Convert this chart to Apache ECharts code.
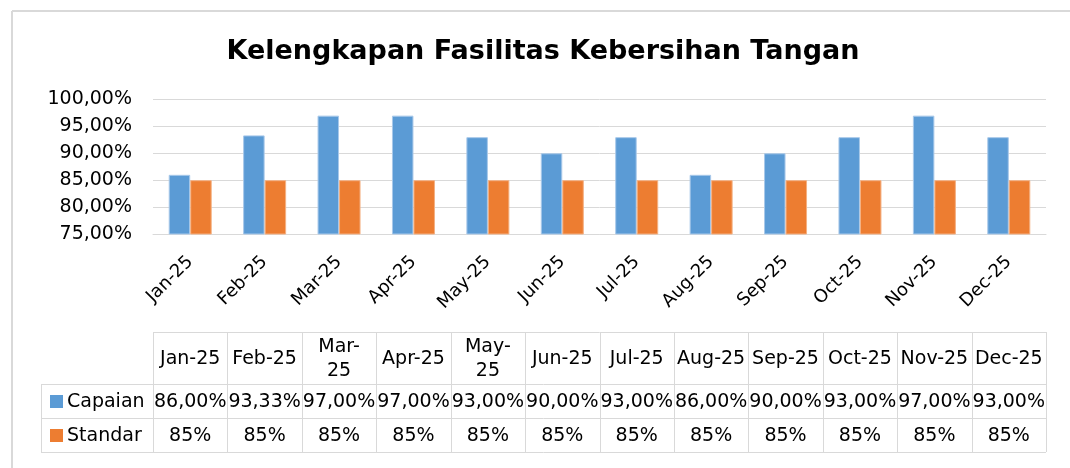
<!DOCTYPE html>
<html><head><meta charset="utf-8">
<script src="https://cdn.jsdelivr.net/npm/echarts@6/dist/echarts.min.js"></script>
<style>html,body{margin:0;padding:0;background:#fff}#c{width:1070px;height:468px}</style>
</head><body><div id="c"></div>
<script>
// ---- data ----
const categories = ['Jan-25','Feb-25','Mar-25','Apr-25','May-25','Jun-25','Jul-25','Aug-25','Sep-25','Oct-25','Nov-25','Dec-25'];
const tableHeaders = ['Jan-25','Feb-25','Mar-\n25','Apr-25','May-\n25','Jun-25','Jul-25','Aug-25','Sep-25','Oct-25','Nov-25','Dec-25'];
const capaian = [86.00, 93.33, 97.00, 97.00, 93.00, 90.00, 93.00, 86.00, 90.00, 93.00, 97.00, 93.00];
const standar = [85, 85, 85, 85, 85, 85, 85, 85, 85, 85, 85, 85];
const seriesNames = ['Capaian', 'Standar'];
const titleText = 'Kelengkapan Fasilitas Kebersihan Tangan';
const yMin = 75, yMax = 100, yStep = 5;

// ---- style ----
const FONT = 'DejaVu Sans';
const COLORS = ['#5b9bd5', '#ed7d31'];
const BORDERS = ['#a9c9ea', '#f4b183'];
const GRIDC = '#d9d9d9';
const fmt2 = v => v.toFixed(2).replace('.', ',') + '%';
const fmt0 = v => Math.round(v) + '%';
const formatters = [fmt2, fmt0];
const seriesData = [capaian, standar];

const chart = echarts.init(document.getElementById('c'), null, {renderer: 'canvas'});
chart.setOption({
  animation: false,
  grid: {left: 153, right: 24, top: 99.5, bottom: 234, containLabel: false},
  xAxis: {
    type: 'category', data: categories,
    axisLine: {show: true, lineStyle: {color: GRIDC}},
    axisTick: {show: false},
    axisLabel: {interval: 0, rotate: 45, margin: 25, fontFamily: FONT, fontSize: 18, color: '#000'}
  },
  yAxis: {
    type: 'value', min: yMin, max: yMax, interval: yStep,
    axisLine: {show: false}, axisTick: {show: false},
    axisLabel: {formatter: v => fmt2(v), margin: 21, fontFamily: FONT, fontSize: 19, color: '#000'},
    splitLine: {lineStyle: {color: GRIDC, width: 1}}
  },
  series: seriesNames.map((n, i) => ({
    type: 'bar', name: n, data: seriesData[i], barWidth: 21.5, barGap: '0%',
    itemStyle: {color: COLORS[i], borderColor: BORDERS[i], borderWidth: 1}
  }))
});

// ---- table + frame + title drawn as graphics, using axis scale ----
function buildGraphics() {
  const c0 = chart.convertToPixel({xAxisIndex: 0}, 0);
  const c1 = chart.convertToPixel({xAxisIndex: 0}, 1);
  const cw = c1 - c0;
  const left = c0 - cw / 2;
  const right = left + cw * categories.length;
  const rows = [332, 384, 418, 452];
  const rhLeft = 41;
  const els = [];
  const line = (x1, y1, x2, y2, color, w) => els.push({type: 'line', silent: true,
    shape: {x1, y1, x2, y2}, style: {stroke: color || GRIDC, lineWidth: w || 1}});
  // outer frame
  line(12, 11, 1070, 11, '#d9d9d9', 2);
  line(12, 11, 12, 468, '#d9d9d9', 2);
  // title
  els.push({type: 'text', x: 543, y: 52, style: {text: titleText, font: 'bold 27px "' + FONT + '"',
    fill: '#000', align: 'center', verticalAlign: 'middle'}});
  // table lines
  line(left, rows[0] + 0.5, right, rows[0] + 0.5);
  for (let r = 1; r < rows.length; r++) line(rhLeft, rows[r] + 0.5, right, rows[r] + 0.5);
  line(rhLeft + 0.5, rows[1], rhLeft + 0.5, rows[3]);
  for (let i = 0; i <= categories.length; i++) {
    const x = Math.round(left + i * cw) + 0.5;
    line(x, rows[0], x, rows[3]);
  }
  const tf = '19px "' + FONT + '"';
  tableHeaders.forEach((c, i) => {
    const cx = left + (i + 0.5) * cw;
    els.push({type: 'text', x: cx, y: (rows[0] + rows[1]) / 2 + 1, style: {text: c, font: tf, fill: '#000',
      align: 'center', verticalAlign: 'middle', lineHeight: 24}});
    seriesData.forEach((d, s) => {
      els.push({type: 'text', x: cx, y: (rows[s + 1] + rows[s + 2]) / 2 + 1, style: {text: formatters[s](d[i]),
        font: tf, fill: '#000', align: 'center', verticalAlign: 'middle'}});
    });
  });
  seriesNames.forEach((n, s) => {
    const cy = (rows[s + 1] + rows[s + 2]) / 2 + 1;
    els.push({type: 'rect', shape: {x: 50, y: cy - 7, width: 13, height: 13}, style: {fill: COLORS[s]}});
    els.push({type: 'text', x: 67, y: cy, style: {text: n, font: tf, fill: '#000', align: 'left', verticalAlign: 'middle'}});
  });
  chart.setOption({graphic: {elements: els}});
}
buildGraphics();
</script>
</body></html>
